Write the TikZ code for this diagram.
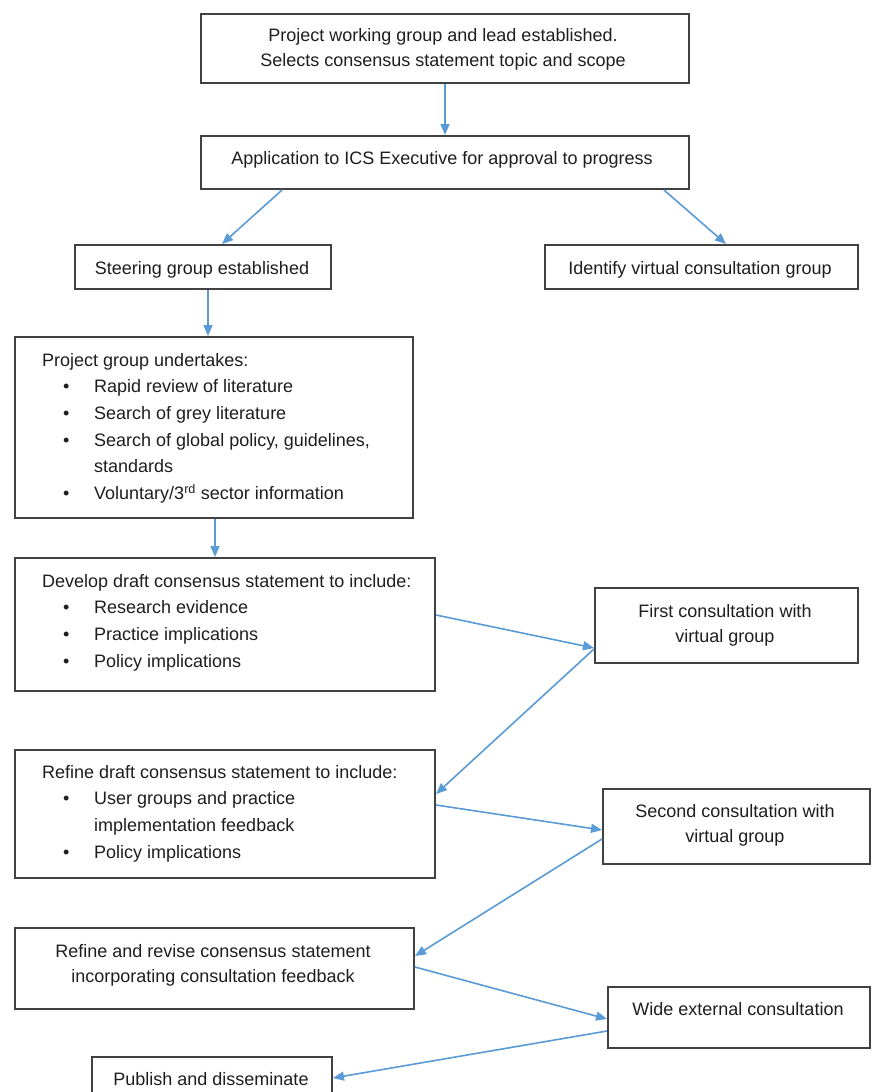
\documentclass[tikz,border=0pt]{standalone}
\usepackage{fontspec}
\setmainfont{Liberation Sans}
\usetikzlibrary{arrows.meta}
\definecolor{arrowblue}{RGB}{91,155,213}
\definecolor{boxgray}{RGB}{65,65,65}
\definecolor{txtcol}{RGB}{30,30,30}
\newcommand\ctext[1]{\vtop{\baselineskip=25.5pt\halign{\hfil##\hfil\cr#1\crcr}}}
\newcommand\ltext[1]{\vtop{\baselineskip=26.7pt\halign{##\hfil\cr#1\crcr}}}
\newcommand\bl[1]{\makebox[52pt][l]{\hspace*{21pt}\textbullet}#1}
\newcommand\cont[1]{\hspace*{52pt}#1}
\newcommand\bx[5]{\node[box, anchor=north west, minimum width={(#4-#2)*1pt}, minimum height={(#5-#3)*1pt}] (#1) at (#2,-#3) {};}
\tikzset{
  box/.style={draw=boxgray, line width=2pt, fill=white, inner sep=0pt},
  txt/.style={inner sep=0pt, text=txtcol, font=\fontsize{18}{26}\selectfont},
  arr/.style={draw=arrowblue, line width=1.6pt, -{Triangle[length=11pt,width=9pt]}}
}
\begin{document}
\begin{tikzpicture}[x=1pt,y=1pt]
\useasboundingbox (0,0) rectangle (873,-1092);
\fill[white] (0,0) rectangle (873,-1092);
% boxes
\bx{top}{200}{13}{688}{82}
\bx{app}{200}{135}{688}{188}
\bx{steer}{74}{244}{330}{288}
\bx{ident}{544}{244}{857}{288}
\bx{proj}{14}{336}{412}{517}
\bx{dev}{14}{557}{434}{690}
\bx{first}{594}{587}{857}{662}
\bx{refd}{14}{749}{434}{877}
\bx{second}{602}{788}{869}{863}
\bx{refr}{14}{927}{413}{1008}
\bx{wide}{607}{986}{869}{1047}
\bx{pub}{91}{1056}{331}{1098}
% texts
\node[txt, anchor=base] (ttop) at (443,-41) {\ctext{Project working group and lead established.\cr Selects consensus statement topic and scope}};
\node[txt, anchor=base] (tapp) at (442,-164) {Application to ICS Executive for approval to progress};
\node[txt, anchor=base] (tsteer) at (202,-274) {Steering group established};
\node[txt, anchor=base] (tident) at (700,-274) {Identify virtual consultation group};
\node[txt, anchor=base west] (tproj) at (42,-366) {\ltext{Project group undertakes:\cr
 \bl{Rapid review of literature}\cr
 \bl{Search of grey literature}\cr
 \bl{Search of global policy, guidelines,}\cr
 \cont{standards}\cr
 \bl{Voluntary/3\textsuperscript{rd} sector information}}};
\node[txt, anchor=base west] (tdev) at (42,-587) {\ltext{Develop draft consensus statement to include:\cr
 \bl{Research evidence}\cr
 \bl{Practice implications}\cr
 \bl{Policy implications}}};
\node[txt, anchor=base] (tfirst) at (725,-617) {\ctext{First consultation with\cr virtual group}};
\node[txt, anchor=base west] (trefd) at (42,-778) {\ltext{Refine draft consensus statement to include:\cr
 \bl{User groups and practice}\cr
 \cont{implementation feedback}\cr
 \bl{Policy implications}}};
\node[txt, anchor=base] (tsecond) at (735,-817) {\ctext{Second consultation with\cr virtual group}};
\node[txt, anchor=base] (trefr) at (213,-957) {\ctext{Refine and revise consensus statement\cr incorporating consultation feedback}};
\node[txt, anchor=base] (twide) at (738,-1015) {Wide external consultation};
\node[txt, anchor=base] (tpub) at (211,-1085) {Publish and disseminate};
% connectors
\draw[arr] (top.south) -- (top.south |- app.north);
\draw[arr] ([xshift=-163pt]app.south) -- ([xshift=19pt]steer.north);
\draw[arr] ([xshift=219pt]app.south) -- ([xshift=24.5pt]ident.north);
\draw[arr] ([xshift=134pt]steer.south west) -- ([xshift=134pt]steer.south west |- proj.north);
\draw[arr] ([xshift=201pt]proj.south west) -- ([xshift=201pt]proj.south west |- dev.north);
\draw[arr] ([yshift=9.5pt]dev.east) -- ([yshift=-22.5pt]first.west);
\draw[arr] ([yshift=-23.5pt]first.west) -- ([yshift=20pt]refd.east);
\draw[arr] ([yshift=9pt]refd.east) -- ([yshift=-3.5pt]second.west);
\draw[arr] ([yshift=-12.5pt]second.west) -- ([yshift=12.5pt]refr.east);
\draw[arr] (refr.east |- 0,-967) -- ([yshift=-1.5pt]wide.west);
\draw[arr] ([yshift=-13.5pt]wide.west) -- (pub.east |- 0,-1078);
\end{tikzpicture}
\end{document}
